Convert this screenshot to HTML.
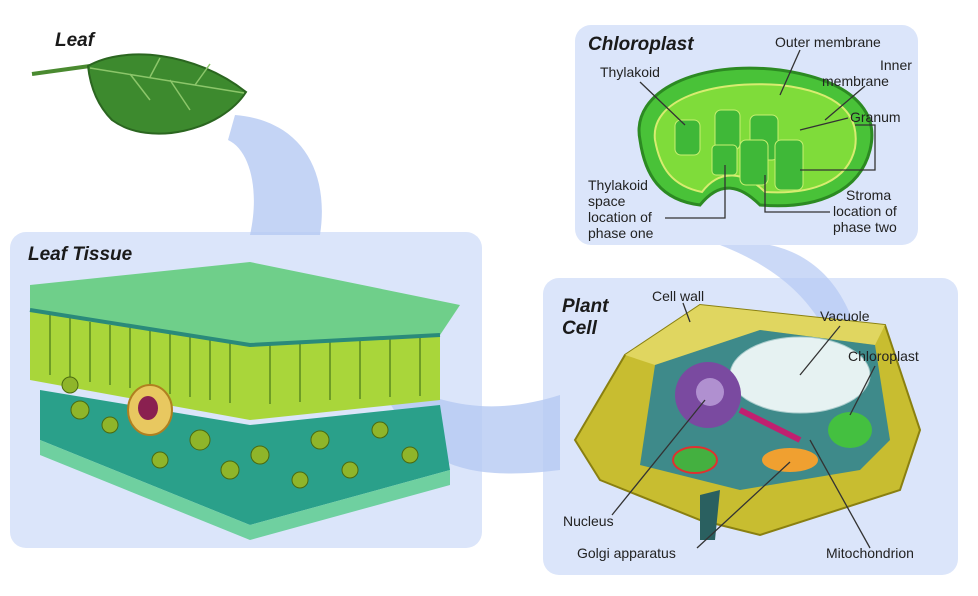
<!DOCTYPE html>
<html><head><meta charset="utf-8"><style>
html,body{margin:0;padding:0;background:#fff;}
svg{display:block;font-family:"Liberation Sans",sans-serif;}
.t{font-size:14px;fill:#222;}
.h{font-size:19px;font-weight:bold;font-style:italic;fill:#1a1a1a;}
</style></head><body>
<svg width="978" height="596" viewBox="0 0 978 596" xmlns="http://www.w3.org/2000/svg">
<rect width="978" height="596" fill="#fff"/>
<rect x="10" y="232" width="472" height="316" rx="16" fill="#dbe5fa"/>
<rect x="575" y="25" width="343" height="220" rx="16" fill="#dbe5fa"/>
<rect x="543" y="278" width="415" height="297" rx="16" fill="#dbe5fa"/>
<path d="M235 115 C300 120 330 170 320 235 L250 235 C260 190 250 150 228 140 Z" fill="#b5c9f3" opacity="0.8"/>
<path d="M370 370 C430 400 480 420 560 395 L560 470 C480 480 430 470 400 420 Z" fill="#b5c9f3" opacity="0.8"/>
<path d="M770 245 C840 260 870 330 865 420 L845 420 C845 340 810 280 720 245 Z" fill="#b5c9f3" opacity="0.7"/>
<path d="M32 74 L90 66" stroke="#4a8a30" stroke-width="4"/>
<path d="M88 66 C125 45 195 52 246 92 C222 130 150 148 112 120 C96 104 90 84 88 66 Z" fill="#3d8a2e" stroke="#2b6620" stroke-width="2"/>
<path d="M90 68 L244 93 M130 74 L150 100 M170 80 L190 110 M150 77 L160 58 M195 85 L210 64" stroke="#8cc66a" stroke-width="1.5" fill="none"/>
<text class="h" x="55" y="46">Leaf</text>
<text class="h" x="28" y="260">Leaf Tissue</text>
<path d="M30 285 L250 262 L460 305 L440 335 L250 345 L30 310 Z" fill="#6fcf8a"/>
<path d="M30 310 L250 345 L440 335 L440 400 L250 420 L30 380 Z" fill="#a9d63a"/>
<g stroke="#5a8a20" stroke-width="1.5">
<path d="M50 315 v60 M70 318 v60 M90 322 v60 M110 325 v60 M130 328 v60 M150 331 v60 M170 334 v60 M190 337 v60 M210 340 v60 M230 343 v60 M270 344 v60 M300 342 v60 M330 340 v60 M360 339 v60 M390 337 v60 M420 336 v60"/>
</g>
<path d="M30 310 L250 345 L440 335" stroke="#2a8a7a" stroke-width="4" fill="none"/>
<path d="M40 390 L250 425 L440 405 L450 470 L250 525 L40 440 Z" fill="#2aa08a"/>
<path d="M40 440 L250 525 L450 470 L450 485 L250 540 L40 455 Z" fill="#6fd0a0"/>
<g fill="#8fb52a" stroke="#4a6a10">
<circle cx="80" cy="410" r="9"/><circle cx="110" cy="425" r="8"/><circle cx="200" cy="440" r="10"/><circle cx="260" cy="455" r="9"/><circle cx="320" cy="440" r="9"/><circle cx="380" cy="430" r="8"/><circle cx="230" cy="470" r="9"/><circle cx="300" cy="480" r="8"/><circle cx="160" cy="460" r="8"/><circle cx="350" cy="470" r="8"/><circle cx="410" cy="455" r="8"/><circle cx="70" cy="385" r="8"/>
</g>
<ellipse cx="150" cy="410" rx="22" ry="25" fill="#e8c860" stroke="#b08020" stroke-width="2"/>
<ellipse cx="148" cy="408" rx="10" ry="12" fill="#8a2050"/>
<text class="h" x="588" y="50">Chloroplast</text>
<path d="M640 140 C630 90 700 60 780 70 C850 80 880 110 870 150 C860 190 820 210 760 205 C740 185 720 180 700 205 C660 200 645 175 640 140 Z" fill="#49c238" stroke="#2c8a22" stroke-width="3"/>
<path d="M655 140 C650 100 710 80 780 85 C840 92 860 115 855 148 C848 180 815 195 765 192 C745 172 720 168 702 192 C672 186 660 168 655 140 Z" fill="#7fdc3a" stroke="#d8ec70" stroke-width="2"/>
<g fill="#3fb838" stroke="#c8f070">
<rect x="675" y="120" width="25" height="35" rx="6"/><rect x="715" y="110" width="25" height="40" rx="6"/><rect x="750" y="115" width="28" height="45" rx="6"/><rect x="775" y="140" width="28" height="50" rx="6"/><rect x="740" y="140" width="28" height="45" rx="6"/><rect x="712" y="145" width="25" height="30" rx="4"/>
</g>
<g class="t">
<text x="600" y="77">Thylakoid</text>
<text x="775" y="47">Outer membrane</text>
<text x="880" y="70">Inner</text><text x="822" y="86">membrane</text>
<text x="850" y="122">Granum</text>
<text x="588" y="190">Thylakoid</text><text x="588" y="206">space</text><text x="588" y="222">location of</text><text x="588" y="238">phase one</text>
<text x="846" y="200">Stroma</text><text x="833" y="216">location of</text><text x="833" y="232">phase two</text>
</g>
<g stroke="#333" fill="none" stroke-width="1.3">
<path d="M640 82 L685 125"/><path d="M800 50 L780 95"/><path d="M865 86 L825 120"/><path d="M848 118 L800 130"/>
<path d="M665 218 L725 218 L725 165"/><path d="M830 212 L765 212 L765 175"/><path d="M855 125 L875 125 L875 170 L800 170"/>
</g>
<text class="h" x="562" y="312">Plant</text><text class="h" x="562" y="334">Cell</text>
<path d="M575 440 L625 355 L700 305 L885 325 L920 430 L900 490 L760 535 L700 520 L600 480 Z" fill="#c8bd30" stroke="#8a8010" stroke-width="2"/>
<path d="M625 355 L700 305 L885 325 L875 345 L760 330 L655 365 Z" fill="#e0d660"/>
<path d="M640 465 L655 365 L760 330 L875 345 L890 440 L860 470 L740 490 Z" fill="#3e8a8a"/>
<ellipse cx="800" cy="375" rx="70" ry="38" fill="#e6f2f2" stroke="#aacccc"/>
<circle cx="708" cy="395" r="33" fill="#7a4aa0"/>
<circle cx="710" cy="392" r="14" fill="#b090d0"/>
<ellipse cx="850" cy="430" rx="22" ry="18" fill="#44c040"/>
<ellipse cx="695" cy="460" rx="22" ry="13" fill="#44b040" stroke="#e03030" stroke-width="2"/>
<ellipse cx="790" cy="460" rx="28" ry="12" fill="#f0a030"/>
<path d="M740 410 C760 420 780 430 800 440" stroke="#c02070" stroke-width="6" fill="none"/>
<path d="M700 495 L720 490 L715 540 L700 540 Z" fill="#2a6060"/>
<g class="t">
<text x="652" y="301">Cell wall</text>
<text x="820" y="321">Vacuole</text>
<text x="848" y="361">Chloroplast</text>
<text x="563" y="526">Nucleus</text>
<text x="577" y="558">Golgi apparatus</text>
<text x="826" y="558">Mitochondrion</text>
</g>
<g stroke="#333" fill="none" stroke-width="1.3">
<path d="M683 303 L690 322"/><path d="M840 326 L800 375"/><path d="M875 366 L850 415"/>
<path d="M612 515 L705 400"/><path d="M697 548 L790 462"/><path d="M870 548 L810 440"/>
</g>
</svg>
</body></html>
